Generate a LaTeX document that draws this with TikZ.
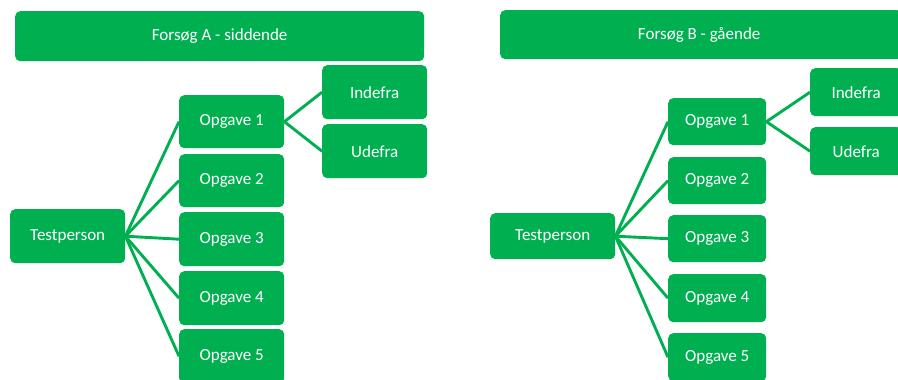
\documentclass[tikz,border=0pt]{standalone}
\usepackage{fontspec}
\setmainfont{Carlito}
\definecolor{xgreen}{HTML}{00B050}
\begin{document}
\begin{tikzpicture}[x=1pt,y=-1pt,
  box/.style={fill=xgreen, rounded corners=5pt, inner sep=0pt, anchor=north west,
    text=white, font=\fontsize{17}{20}\selectfont, align=center},
  conn/.style={draw=xgreen, line width=2.9pt}]
\useasboundingbox (0,0) rectangle (898,380);
% Panel A
\node[box, minimum width=409pt, minimum height=50pt] (tA) at (15,11) {Forsøg A - siddende};
\node[box, minimum width=115pt, minimum height=54pt] (tp1) at (10,209) {Testperson};
\node[box, minimum width=105pt, minimum height=53pt] (a1) at (179,95) {Opgave 1};
\node[box, minimum width=105pt, minimum height=53pt] (a2) at (179,154) {Opgave 2};
\node[box, minimum width=105pt, minimum height=54pt] (a3) at (179,212) {Opgave 3};
\node[box, minimum width=105pt, minimum height=54pt] (a4) at (179,271) {Opgave 4};
\node[box, minimum width=105pt, minimum height=54pt] (a5) at (179,329) {Opgave 5};
\node[box, minimum width=105pt, minimum height=54pt] (ai) at (322,65) {Indefra};
\node[box, minimum width=105pt, minimum height=54pt] (au) at (322,124) {Udefra};
\foreach \n in {a1,a2,a3,a4,a5} \draw[conn] (tp1.east) -- (\n.west);
\draw[conn] (a1.east) -- (ai.west);
\draw[conn] (a1.east) -- (au.west);
% Panel B
\node[box, minimum width=402pt, minimum height=49pt] (tB) at (500,10) {\hspace*{-2pt}Forsøg B - gående\hspace*{2pt}};
\node[box, minimum width=125pt, minimum height=46pt] (tp2) at (490,213) {Testperson};
\node[box, minimum width=98pt, minimum height=47pt] (b1) at (668,98) {Opgave 1};
\node[box, minimum width=98pt, minimum height=47pt] (b2) at (668,157) {Opgave 2};
\node[box, minimum width=98pt, minimum height=47pt] (b3) at (668,215) {Opgave 3};
\node[box, minimum width=98pt, minimum height=48pt] (b4) at (668,274) {Opgave 4};
\node[box, minimum width=98pt, minimum height=48pt] (b5) at (668,333) {Opgave 5};
\node[box, minimum width=92pt, minimum height=48pt] (bi) at (810,68) {Indefra};
\node[box, minimum width=92pt, minimum height=48pt] (bu) at (810,127) {Udefra};
\foreach \n in {b1,b2,b3,b4,b5} \draw[conn] (tp2.east) -- (\n.west);
\draw[conn] (b1.east) -- (bi.west);
\draw[conn] (b1.east) -- (bu.west);
\end{tikzpicture}
\end{document}
